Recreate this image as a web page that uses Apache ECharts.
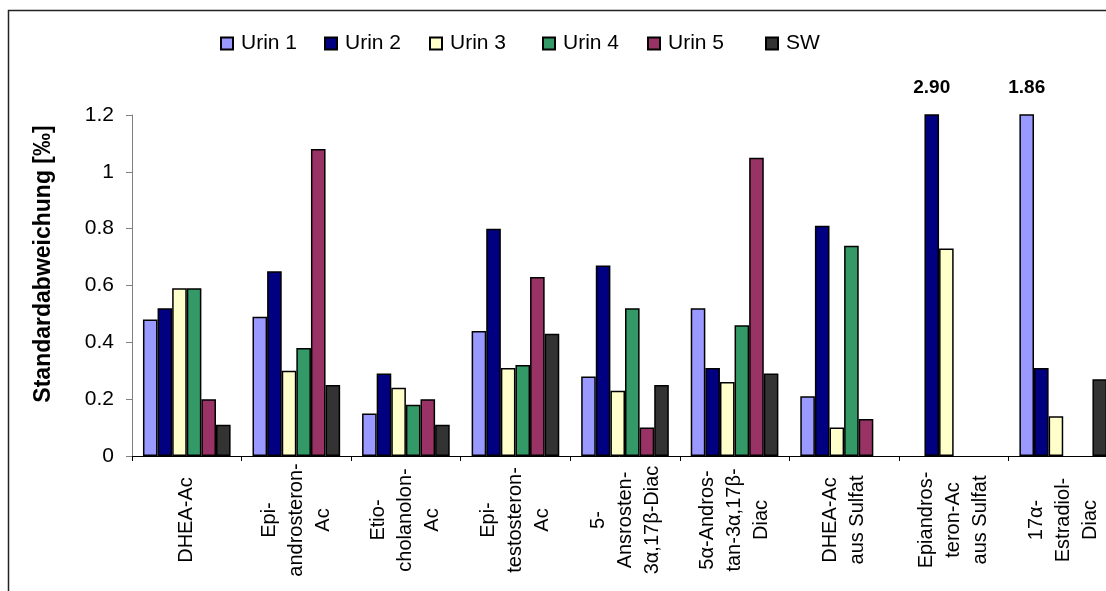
<!DOCTYPE html>
<html>
<head>
<meta charset="utf-8">
<script src="https://cdn.jsdelivr.net/npm/echarts@6/dist/echarts.min.js"></script>
<style>
html,body{margin:0;padding:0;background:#fff;}
#chart{width:1106px;height:591px;}
</style>
</head>
<body>
<div id="chart"></div>
<script>
const categories = [
  "DHEA-Ac",
  "Epi-\nandrosteron-\nAc",
  "Etio-\ncholanolon-\nAc",
  "Epi-\ntestosteron-\nAc",
  "5-\nAnsrosten-\n3α,17β-Diac",
  "5α-Andros-\ntan-3α,17β-\nDiac",
  "DHEA-Ac\naus Sulfat",
  "Epiandros-\nteron-Ac\naus Sulfat",
  "17α-\nEstradiol-\nDiac"
];
const urin1 = [0.48, 0.49, 0.15, 0.44, 0.28, 0.52, 0.21, null, 1.86];
const urin2 = [0.52, 0.65, 0.29, 0.80, 0.67, 0.31, 0.81, 2.90, 0.31];
const urin3 = [0.59, 0.30, 0.24, 0.31, 0.23, 0.26, 0.10, 0.73, 0.14];
const urin4 = [0.59, 0.38, 0.18, 0.32, 0.52, 0.46, 0.74, null, null];
const urin5 = [0.20, 1.08, 0.20, 0.63, 0.10, 1.05, 0.13, null, null];
const sw    = [0.11, 0.25, 0.11, 0.43, 0.25, 0.29, null, null, 0.27];
const yTicks = { min: 0, max: 1.2, interval: 0.2 };

const seriesNames = ["Urin 1", "Urin 2", "Urin 3", "Urin 4", "Urin 5", "SW"];
const seriesData = [urin1, urin2, urin3, urin4, urin5, sw];
const colors = ["#9999FF", "#000080", "#FFFFCC", "#339966", "#993366", "#333333"];
const legendLeft = [220, 324, 429, 542, 647, 765];

const FONT = '"Liberation Sans", Arial, Helvetica, sans-serif';

const chart = echarts.init(document.getElementById('chart'), null, {renderer: 'canvas'});
const option = {
  animation: false,
  backgroundColor: '#ffffff',
  textStyle: { fontFamily: FONT, color: '#000' },
  legend: seriesNames.map(function (n, i) {
    return {
      left: legendLeft[i],
      top: 33,
      padding: 0,
      itemWidth: 12,
      itemHeight: 12,
      icon: 'rect',
      selectedMode: false,
      textStyle: { fontFamily: FONT, fontSize: 21, color: '#000', padding: [0, 0, 0, 3] },
      data: [n]
    };
  }),
  grid: { left: 132, top: 115, width: 986, height: 341, outerBoundsMode: 'none', containLabel: false },
  xAxis: {
    type: 'category',
    data: categories,
    axisLine: { lineStyle: { color: '#000', width: 1 } },
    axisTick: { show: true, length: 5, lineStyle: { color: '#000' } },
    axisLabel: {
      interval: 0,
      rotate: 90,
      align: 'center',
      verticalAlign: 'middle',
      margin: 64,
      color: '#000',
      fontFamily: FONT,
      fontSize: 20,
      lineHeight: 27,
      formatter: function (v) {
        return v.split('\n').map(function (l) { return '{c|' + l + '}'; }).join('\n');
      },
      rich: {
        c: { width: 114, align: 'center', fontFamily: FONT, fontSize: 20, lineHeight: 27, color: '#000' }
      }
    },
    splitLine: { show: false }
  },
  yAxis: {
    type: 'value',
    min: yTicks.min,
    max: yTicks.max,
    interval: yTicks.interval,
    axisLine: { show: true, lineStyle: { color: '#808080', width: 1 } },
    axisTick: { show: true, length: 6, lineStyle: { color: '#808080' } },
    axisLabel: { color: '#000', fontFamily: FONT, fontSize: 21, margin: 18 },
    splitLine: { show: false }
  },
  graphic: [
    {
      type: 'rect',
      shape: { x: 8.5, y: 10.5, width: 1300, height: 800 },
      style: { fill: 'none', stroke: '#222', lineWidth: 1.5 },
      silent: true
    },
    {
      type: 'text',
      x: 44, y: 264,
      rotation: Math.PI / 2,
      style: {
        text: 'Standardabweichung [‰]',
        fontFamily: FONT, fontSize: 23, fontWeight: 'bold',
        fill: '#000', align: 'center', verticalAlign: 'middle'
      }
    }
  ],
  series: seriesNames.map(function (name, i) {
    return {
      name: name,
      type: 'bar',
      data: seriesData[i],
      barGap: '0%',
      barCategoryGap: '20%',
      clip: true,
      itemStyle: { color: colors[i], borderColor: '#000', borderWidth: 1.5 },
      label: {
        show: true,
        position: 'top',
        distance: 17,
        fontFamily: FONT,
        fontSize: 19,
        fontWeight: 'bold',
        color: '#000',
        formatter: function (p) {
          return (p.value != null && p.value > yTicks.max) ? p.value.toFixed(2) : '';
        }
      }
    };
  })
};
chart.setOption(option);
</script>
</body>
</html>
